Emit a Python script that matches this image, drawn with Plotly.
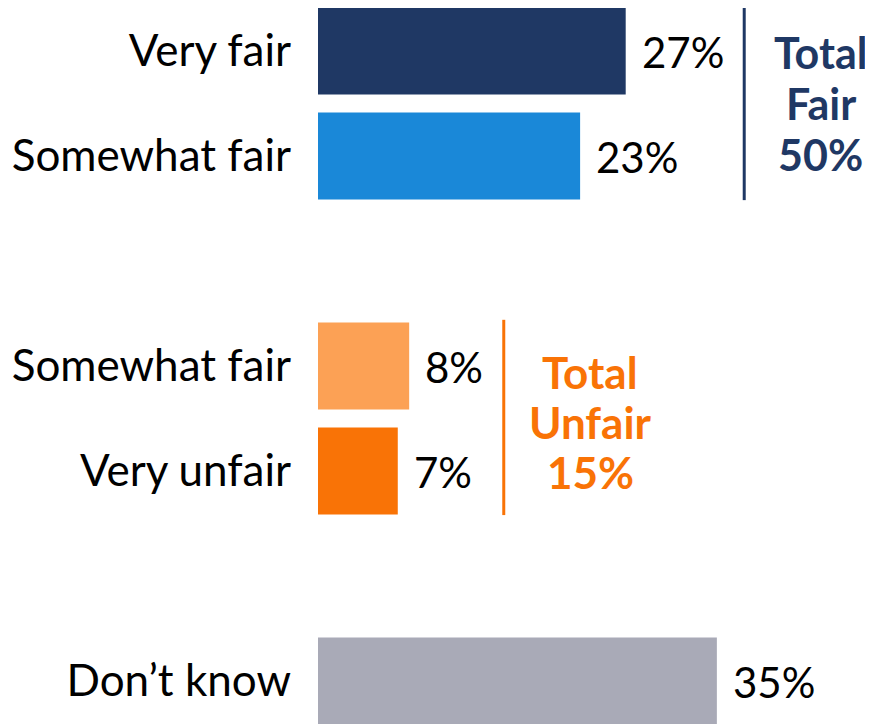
import plotly.graph_objects as go

# rows, top to bottom; blank rows are spacers between the groups
labels = ['Very fair', 'Somewhat fair', '', 'Somewhat fair', 'Very unfair', '', 'Don’t know']
values = [27, 23, None, 8, 7, None, 35]
colors = ['#1F3864', '#1A88D8', '#FFFFFF', '#FCA155', '#F97306', '#FFFFFF', '#A9AAB7']

total_fair = 50
total_unfair = 15

FONT = 'Lato'
rows = list(range(len(labels)))
shown = [r for r in rows if values[r] is not None]

fig = go.Figure()
fig.add_trace(go.Bar(
    x=[values[r] for r in shown],
    y=shown,
    orientation='h',
    width=0.83,
    marker=dict(color=[colors[r] for r in shown], line=dict(width=0)),
    hoverinfo='skip',
))

for r in shown:
    fig.add_annotation(x=values[r], y=r, text=f'{values[r]}%', showarrow=False,
                       xanchor='left', xshift=14, yshift=-1,
                       font=dict(family=FONT, size=42, color='#000000'))

# group brackets + totals (one annotation per line to keep tight line spacing)
fig.add_shape(type='line', xref='x', yref='y', x0=37.4, x1=37.4, y0=-0.41, y1=1.42,
              line=dict(color='#1F3864', width=3))
fig.add_shape(type='line', xref='x', yref='y', x0=16.3, x1=16.3, y0=2.56, y1=4.42,
              line=dict(color='#F97306', width=3))

fair_lines = ['Total', 'Fair', f'{total_fair}%']
unfair_lines = ['Total', 'Unfair', f'{total_unfair}%']
for i, t in enumerate(fair_lines):
    fig.add_annotation(x=44.1, y=0.01 + 0.49 * i, text=f'<b>{t}</b>', showarrow=False,
                       xanchor='center', yanchor='middle',
                       font=dict(family=FONT, size=43, color='#1F3864'))
for i, t in enumerate(unfair_lines):
    fig.add_annotation(x=23.9, y=3.06 + 0.475 * i, text=f'<b>{t}</b>', showarrow=False,
                       xanchor='center', yanchor='middle',
                       font=dict(family=FONT, size=44, color='#F97306'))

# page body has an 8px margin, so the figure is 8px smaller and shifted
fig.update_layout(
    width=865, height=716,
    paper_bgcolor='white', plot_bgcolor='white',
    margin=dict(l=310, r=0, t=0, b=0),
    showlegend=False,
    xaxis=dict(range=[0, 48.7], visible=False, fixedrange=True),
    yaxis=dict(range=[6.41, -0.41], tickmode='array', tickvals=shown,
               ticktext=[labels[r] for r in shown], showgrid=False, zeroline=False,
               showline=False, ticks='', ticklabelstandoff=26,
               tickfont=dict(family=FONT, size=44, color='#000000')),
)

fig.write_html('out.html')
